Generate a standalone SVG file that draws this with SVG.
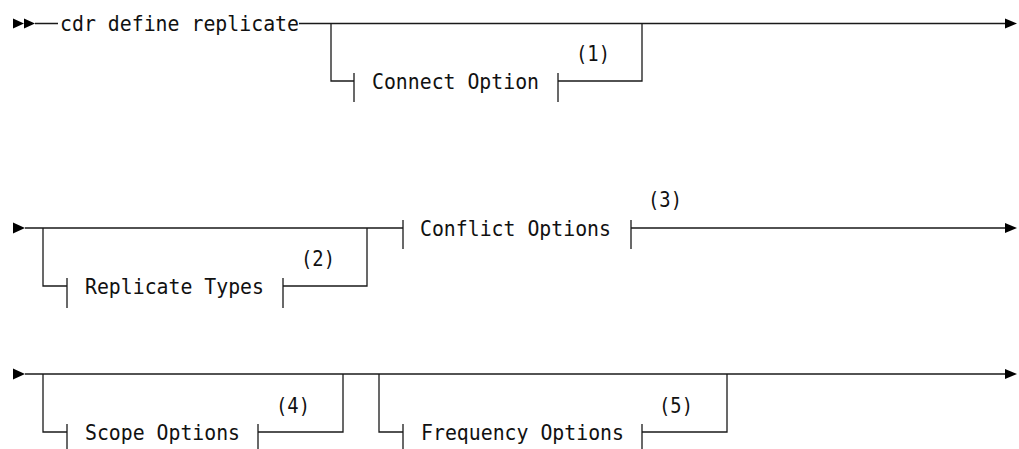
<svg xmlns="http://www.w3.org/2000/svg" width="1019" height="449" viewBox="0 0 1019 449">
<style>
.l{stroke:#1a1a1a;stroke-width:1.3;fill:none}
.t{font-family:"DejaVu Sans Mono","Liberation Mono",monospace;font-size:21.5px;fill:#111}
.a{fill:#000}
</style>
<rect width="1019" height="449" fill="#fff"/>
<g id="connectors">
<polygon class="a" points="13,18.5 24,23.5 13,28.5"/>
<polygon class="a" points="24,18.5 35,23.5 24,28.5"/>
<path class="l" d="M35,23.5H58M299,23.5H1006"/>
<path class="l" d="M331,23.5V81H354M558,81H642V23.5"/>
<polygon class="a" points="1005,18.5 1017,23.5 1005,28.5"/>
<polygon class="a" points="13,222.5 25,228 13,233.5"/>
<path class="l" d="M25,228H403M631,228H1006"/>
<path class="l" d="M43,228V286H67M283,286H367V228"/>
<polygon class="a" points="1005,223 1017,228 1005,233"/>
<polygon class="a" points="13,368.5 25,374 13,379.5"/>
<path class="l" d="M25,374H1006"/>
<path class="l" d="M43,374V432H67M258,432H343V374"/>
<path class="l" d="M379,374V432H403M642,432H727V374"/>
<polygon class="a" points="1005,369 1017,374 1005,379"/>
</g>
<g id="cmd">
<text class="t" x="60" y="31" textLength="239" lengthAdjust="spacingAndGlyphs">cdr define replicate</text>
</g>
<g id="connect-option">
<path class="l" d="M354,73V102M558,73V102"/>
<text class="t" x="372" y="89" textLength="167" lengthAdjust="spacingAndGlyphs">Connect Option</text>
<text class="t" x="576" y="61" textLength="34" lengthAdjust="spacingAndGlyphs">(1)</text>
</g>
<g id="replicate-types">
<path class="l" d="M67,278V308M283,278V308"/>
<text class="t" x="85" y="294" textLength="179" lengthAdjust="spacingAndGlyphs">Replicate Types</text>
<text class="t" x="301" y="266" textLength="34" lengthAdjust="spacingAndGlyphs">(2)</text>
</g>
<g id="conflict-options">
<path class="l" d="M403,220V249M631,220V249"/>
<text class="t" x="420" y="236" textLength="191" lengthAdjust="spacingAndGlyphs">Conflict Options</text>
<text class="t" x="648" y="207" textLength="34" lengthAdjust="spacingAndGlyphs">(3)</text>
</g>
<g id="scope-options">
<path class="l" d="M67,424V449M258,424V449"/>
<text class="t" x="85" y="440" textLength="155" lengthAdjust="spacingAndGlyphs">Scope Options</text>
<text class="t" x="276" y="413" textLength="34" lengthAdjust="spacingAndGlyphs">(4)</text>
</g>
<g id="frequency-options">
<path class="l" d="M403,424V449M642,424V449"/>
<text class="t" x="421" y="440" textLength="203" lengthAdjust="spacingAndGlyphs">Frequency Options</text>
<text class="t" x="659" y="413" textLength="34" lengthAdjust="spacingAndGlyphs">(5)</text>
</g>
</svg>
